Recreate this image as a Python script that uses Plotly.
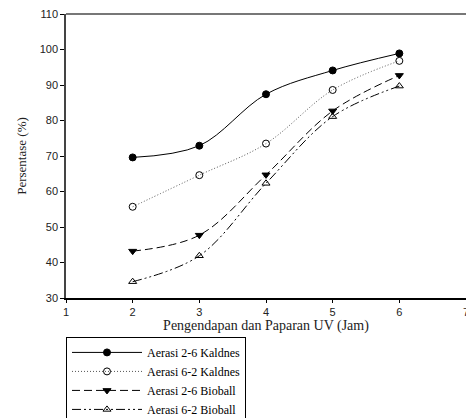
import plotly.graph_objects as go

x_jam = [2, 3, 4, 5, 6]
names = ["Aerasi 2-6 Kaldnes", "Aerasi 6-2 Kaldnes", "Aerasi 2-6 Bioball", "Aerasi 6-2 Bioball"]
aerasi_26_kaldnes = [69.6, 72.9, 87.4, 94.1, 98.9]
aerasi_62_kaldnes = [55.7, 64.6, 73.5, 88.6, 96.8]
aerasi_26_bioball = [43.2, 47.7, 64.7, 82.7, 92.7]
aerasi_62_bioball = [34.6, 41.9, 62.3, 81.1, 89.7]

series = [aerasi_26_kaldnes, aerasi_62_kaldnes, aerasi_26_bioball, aerasi_62_bioball]
dashes = ["solid", "1px,2px", "8px,4px", "9px,3px,2px,3px,2px,3px"]
line_colors = ["black", "#555555", "black", "black"]
symbols = ["circle", "circle-open", "triangle-down", "triangle-up-open"]

fig = go.Figure()
for nm, ys, d, lc, sym in zip(names, series, dashes, line_colors, symbols):
    fig.add_trace(go.Scatter(
        x=x_jam, y=ys, name=nm, mode="lines+markers",
        line=dict(color=lc, width=1, dash=d, shape="spline", smoothing=1.0),
        marker=dict(symbol=sym, size=7, color="black",
                    line=dict(color="black", width=1)),
    ))

serif = "Liberation Serif"
sans = "Liberation Sans"

fig.update_layout(
    width=466, height=418,
    margin=dict(l=66, r=0, t=14, b=120, autoexpand=False),
    paper_bgcolor="white", plot_bgcolor="white",
    showlegend=True,
    legend=dict(
        x=0, y=-0.137, xanchor="left", yanchor="top",
        bordercolor="black", borderwidth=1, bgcolor="white",
        font=dict(family=serif, size=12, color="black"),
        tracegroupgap=0, itemwidth=70,
    ),
    xaxis=dict(
        range=[1, 7], dtick=1, tick0=1, showgrid=False, zeroline=False,
        showline=True, linecolor="black", linewidth=1.5,
        ticks="outside", ticklen=3, tickcolor="black",
        ticklabeloverflow="allow",
        tickfont=dict(family=sans, size=11, color="#222222"),
        title=dict(text="Pengendapan dan Paparan UV (Jam)",
                   font=dict(family=serif, size=14, color="#222222"), standoff=3),
    ),
    yaxis=dict(
        range=[30, 110], dtick=10, tick0=30, showgrid=False, zeroline=False,
        showline=True, linecolor="#444444", linewidth=1.5,
        ticks="outside", ticklen=4, tickcolor="black",
        tickfont=dict(family=sans, size=11, color="#222222"),
        title=dict(text="Persentase (%)",
                   font=dict(family=serif, size=13, color="#222222"), standoff=10),
    ),
    shapes=[dict(type="line", xref="paper", yref="paper", x0=0, x1=1, y0=1, y1=1,
                 line=dict(color="#777777", width=2))],
)

fig.write_html("out.html")
